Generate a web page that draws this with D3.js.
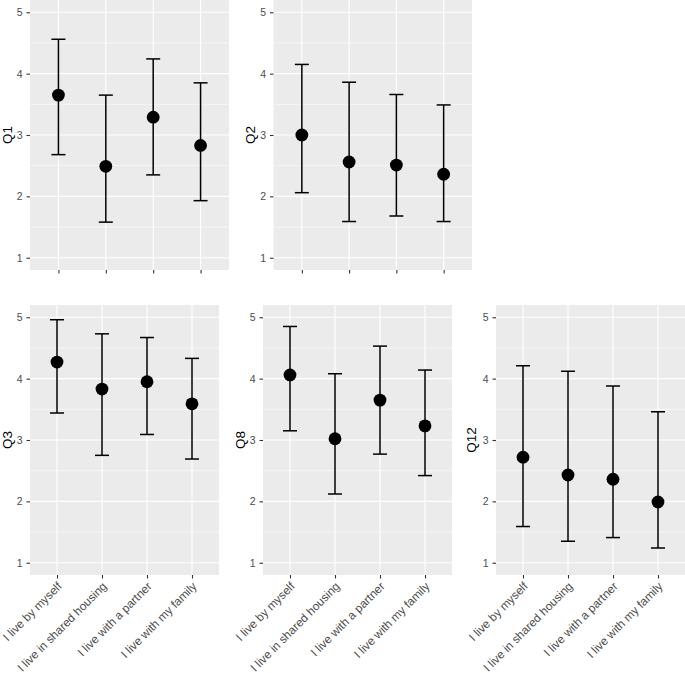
<!DOCTYPE html>
<html>
<head>
<meta charset="utf-8">
<script src="https://cdn.jsdelivr.net/npm/d3@7"></script>
<style>
  html, body { margin: 0; padding: 0; background: #ffffff; }
  svg { display: block; }
</style>
</head>
<body>
<script>
const categories = ["I live by myself", "I live in shared housing", "I live with a partner", "I live with my family"];
const questions = ["Q1", "Q2", "Q3", "Q8", "Q12"];
const yTicks = [1, 2, 3, 4, 5];

const meanQ1 = [3.65, 2.49, 3.29, 2.83];
const lowQ1  = [2.68, 1.58, 2.35, 1.93];
const highQ1 = [4.56, 3.65, 4.24, 3.85];

const meanQ2 = [3.00, 2.56, 2.51, 2.36];
const lowQ2  = [2.06, 1.59, 1.68, 1.59];
const highQ2 = [4.15, 3.86, 3.66, 3.49];

const meanQ3 = [4.27, 3.83, 3.95, 3.59];
const lowQ3  = [3.44, 2.75, 3.09, 2.69];
const highQ3 = [4.96, 4.73, 4.67, 4.33];

const meanQ8 = [4.06, 3.02, 3.65, 3.23];
const lowQ8  = [3.15, 2.12, 2.77, 2.42];
const highQ8 = [4.85, 4.08, 4.53, 4.14];

const meanQ12 = [2.72, 2.43, 2.36, 1.99];
const lowQ12  = [1.59, 1.35, 1.41, 1.24];
const highQ12 = [4.21, 4.12, 3.88, 3.46];

const seriesData = {
  Q1: [meanQ1, lowQ1, highQ1],
  Q2: [meanQ2, lowQ2, highQ2],
  Q3: [meanQ3, lowQ3, highQ3],
  Q8: [meanQ8, lowQ8, highQ8],
  Q12: [meanQ12, lowQ12, highQ12]
};

// panel layout (left, right, top, bottom, title x, show x labels)
const layout = {
  Q1:  {l: 30,    r: 229, t: 0,   b: 270, tx: 7,   labels: false},
  Q2:  {l: 273.5, r: 472, t: 0,   b: 270, tx: 250, labels: false},
  Q3:  {l: 30,    r: 219, t: 305, b: 575, tx: 7,   labels: true},
  Q8:  {l: 263,   r: 452, t: 305, b: 575, tx: 240, labels: true},
  Q12: {l: 496,   r: 685, t: 305, b: 575, tx: 471, labels: true}
};

const W = 685, H = 673;
const svg = d3.select("body").append("svg").attr("width", W).attr("height", H)
  .style("font-family", "'Liberation Sans', Arial, sans-serif");

questions.forEach(q => {
  const L = layout[q];
  const [means, lows, highs] = seriesData[q];
  const x = d3.scalePoint().domain(categories).range([L.l, L.r]).padding(0.6);
  const y = d3.scaleLinear().domain([0.8, 5.2]).range([L.b, L.t]);
  const g = svg.append("g");

  g.append("rect").attr("x", L.l).attr("y", L.t).attr("width", L.r - L.l).attr("height", L.b - L.t)
    .attr("fill", "#EBEBEB");

  const minor = [1.5, 2.5, 3.5, 4.5];
  g.selectAll(".minor").data(minor).join("line")
    .attr("x1", L.l).attr("x2", L.r).attr("y1", d => y(d)).attr("y2", d => y(d))
    .attr("stroke", "#ffffff").attr("stroke-width", 0.55);
  g.selectAll(".major").data(yTicks).join("line")
    .attr("x1", L.l).attr("x2", L.r).attr("y1", d => y(d)).attr("y2", d => y(d))
    .attr("stroke", "#ffffff").attr("stroke-width", 1.1);
  g.selectAll(".vmajor").data(categories).join("line")
    .attr("x1", d => x(d)).attr("x2", d => x(d)).attr("y1", L.t).attr("y2", L.b)
    .attr("stroke", "#ffffff").attr("stroke-width", 1.1);

  // y axis
  const yAxis = d3.axisLeft(y).tickValues(yTicks).tickSize(3.5).tickPadding(4).tickFormat(d3.format("d"));
  const ya = g.append("g").attr("transform", `translate(${L.l},0)`).call(yAxis);
  ya.select(".domain").remove();
  ya.selectAll(".tick line").attr("stroke", "#333333").attr("stroke-width", 1.1);
  ya.selectAll(".tick text").attr("fill", "#4D4D4D").style("font-size", "10.5px");

  // x axis
  const xAxis = d3.axisBottom(x).tickSize(3.5).tickPadding(2);
  const xa = g.append("g").attr("transform", `translate(0,${L.b})`).call(xAxis);
  xa.select(".domain").remove();
  xa.selectAll(".tick line").attr("stroke", "#333333").attr("stroke-width", 1.1);
  if (L.labels) {
    xa.selectAll(".tick text")
      .attr("fill", "#4D4D4D").style("font-size", "11.8px")
      .attr("text-anchor", "end")
      .attr("y", 0).attr("dy", 0)
      .attr("transform", "translate(5,12) rotate(-45)");
  } else {
    xa.selectAll(".tick text").remove();
  }

  // y title
  g.append("text").attr("transform", `translate(${L.tx + 4.5},${(L.t + L.b) / 2}) rotate(-90)`)
    .attr("text-anchor", "middle").attr("fill", "#000000").style("font-size", "13.5px").text(q);

  // error bars
  const cap = 7;
  const eb = g.selectAll(".eb").data(categories).join("g");
  eb.append("line").attr("x1", d => x(d)).attr("x2", d => x(d))
    .attr("y1", (d, i) => y(lows[i])).attr("y2", (d, i) => y(highs[i]))
    .attr("stroke", "#000").attr("stroke-width", 1.5);
  eb.append("line").attr("x1", d => x(d) - cap).attr("x2", d => x(d) + cap)
    .attr("y1", (d, i) => y(lows[i])).attr("y2", (d, i) => y(lows[i]))
    .attr("stroke", "#000").attr("stroke-width", 1.5);
  eb.append("line").attr("x1", d => x(d) - cap).attr("x2", d => x(d) + cap)
    .attr("y1", (d, i) => y(highs[i])).attr("y2", (d, i) => y(highs[i]))
    .attr("stroke", "#000").attr("stroke-width", 1.5);
  g.selectAll(".pt").data(categories).join("circle")
    .attr("cx", d => x(d)).attr("cy", (d, i) => y(means[i])).attr("r", 6.4).attr("fill", "#000");
});
</script>
</body>
</html>
